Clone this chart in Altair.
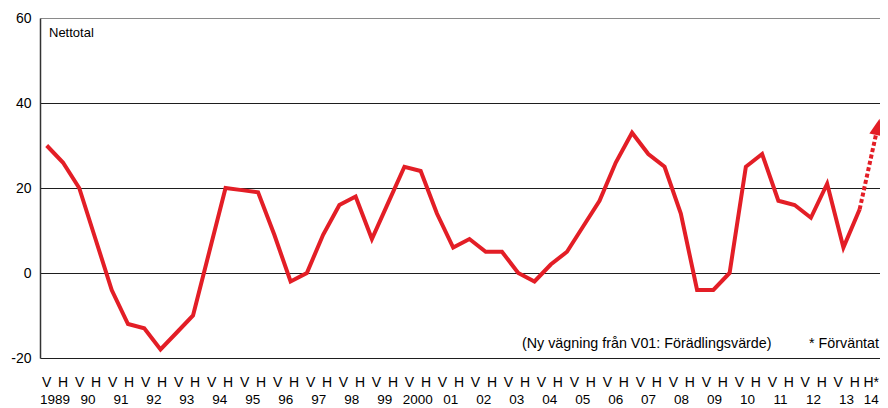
import altair as alt
import pandas as pd

# ---- data ----
values = [30, 26, 20, 8, -4, -12, -13, -18, -14, -10,
          5, 20, 19.5, 19, 9, -2, 0, 9, 16, 18,
          8, 16.5, 25, 24, 14, 6, 8, 5, 5, 0,
          -2, 2, 5, 11, 17, 26, 33, 28, 25, 14,
          -4, -4, 0, 25, 28, 17, 16, 13, 21, 6,
          15]
forecast_value = 32.5
half_labels = ["V", "H"] * 25 + ["H*"]
year_labels = ["1989", "90", "91", "92", "93", "94", "95", "96", "97", "98", "99",
               "2000", "01", "02", "03", "04", "05", "06", "07", "08", "09", "10",
               "11", "12", "13", "14"]
y_ticks = [-20, 0, 20, 40, 60]
note_texts = ["Nettotal", "(Ny vägning från V01: Förädlingsvärde)", "* Förväntat"]

RED = "#e31e26"
FONT = "Liberation Sans"

n = len(values)
df_line = pd.DataFrame({"i": list(range(n)), "v": values})
df_fc = pd.DataFrame({"i": [n - 1, n], "v": [values[-1], forecast_value]})
df_arrow = pd.DataFrame({"i": [n], "v": [forecast_value]})
df_half = pd.DataFrame({"k": list(range(len(half_labels))), "t": half_labels})
year_pos = [2 * j + 0.5 for j in range(len(year_labels) - 1)] + [len(half_labels) - 1]
df_year = pd.DataFrame({"k": year_pos, "t": year_labels})

xs = alt.Scale(domain=[-0.412, 51.25], nice=False, zero=False)
ls = alt.Scale(domain=[-0.406, 50.53], nice=False, zero=False)
ys = alt.Scale(domain=[-20, 60], nice=False, zero=False)

yaxis = alt.Axis(values=y_ticks, grid=True,
                 gridColor={"condition": {"test": "datum.value === 60", "value": "#8a8a8a"},
                            "value": "#1e1e1e"},
                 gridWidth=1, domain=True, domainColor="#333333", domainWidth=1.5,
                 ticks=False, labelPadding=9, labelFontSize=14, labelFont=FONT,
                 labelColor="#000000", title=None, labelExpr="'' + datum.value")

line = alt.Chart(df_line).mark_line(color=RED, strokeWidth=4, strokeJoin="miter").encode(
    x=alt.X("i:Q", scale=xs, axis=None),
    y=alt.Y("v:Q", scale=ys, axis=yaxis),
)
fc = alt.Chart(df_fc).mark_line(color=RED, strokeWidth=4, strokeDash=[4, 2.5]).encode(
    x=alt.X("i:Q", scale=xs, axis=None),
    y=alt.Y("v:Q", scale=ys),
)
arrow = alt.Chart(df_arrow).mark_point(
    shape="M0,-2L0.82,0L-0.82,0Z", size=272, filled=True, color=RED,
    opacity=1, strokeWidth=0, angle=12.6).encode(
    x=alt.X("i:Q", scale=xs, axis=None),
    y=alt.Y("v:Q", scale=ys),
)

halves = alt.Chart(df_half).mark_text(fontSize=14, font=FONT, color="#000",
                                      baseline="alphabetic").encode(
    x=alt.X("k:Q", scale=ls, axis=None),
    y=alt.value(369),
    text="t:N",
)
years = alt.Chart(df_year).mark_text(fontSize=13.5, font=FONT, color="#000",
                                     baseline="alphabetic").encode(
    x=alt.X("k:Q", scale=ls, axis=None),
    y=alt.value(386),
    text="t:N",
)

n1 = alt.Chart(pd.DataFrame({"t": [note_texts[0]]})).mark_text(
    align="left", baseline="alphabetic", fontSize=13, font=FONT, color="#000").encode(
    x=alt.value(9), y=alt.value(18.5), text="t:N")
n2 = alt.Chart(pd.DataFrame({"t": [note_texts[1]]})).mark_text(
    align="left", baseline="alphabetic", fontSize=14.3, font=FONT, color="#000").encode(
    x=alt.value(482), y=alt.value(330), text="t:N")
n3 = alt.Chart(pd.DataFrame({"t": [note_texts[2]]})).mark_text(
    align="right", baseline="alphabetic", fontSize=14.3, font=FONT, color="#000").encode(
    x=alt.value(839), y=alt.value(330), text="t:N")

chart = alt.layer(line, fc, arrow, halves, years, n1, n2, n3).resolve_scale(
    x="independent"
).properties(
    width=840, height=340,
    padding={"left": 32, "top": 10, "right": 0, "bottom": 50},
    autosize=alt.AutoSizeParams(type="none"),
    background="white",
).configure_view(strokeWidth=0)

chart.save("out.html", embed_options={"renderer": "svg", "actions": False})
